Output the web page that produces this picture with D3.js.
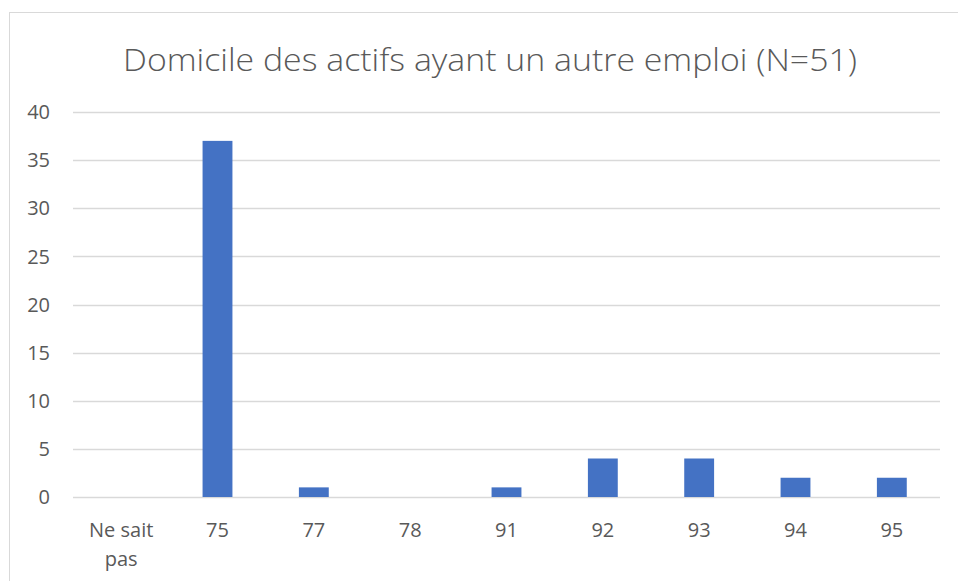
<!DOCTYPE html>
<style>
body { margin: 0; background: #fff; }
text { font-family: "Open Sans", "Noto Sans", sans-serif; fill: #595959; }
</style>
<svg width="958" height="581"></svg>
<script src="https://d3js.org/d3.v7.min.js"></script>
<script>

var categories = ["Ne sait pas", "75", "77", "78", "91", "92", "93", "94", "95"],
    values = [0, 37, 1, 0, 1, 4, 4, 2, 2],
    yTicks = [0, 5, 10, 15, 20, 25, 30, 35, 40];

var title = "Domicile des actifs ayant un autre emploi (N=51)";

var svg = d3.select("svg"),
    margin = {top: 112, right: 18, bottom: 84, left: 73},
    width = 958 - margin.left - margin.right,
    height = 581 - margin.top - margin.bottom;

// chart frame (right and bottom edges run off the page)
svg.append("rect")
    .attr("x", 9.5).attr("y", 12.5)
    .attr("width", 1000).attr("height", 1000)
    .attr("fill", "none")
    .attr("stroke", "#d9d9d9");

svg.append("text")
    .attr("x", 490).attr("y", 71)
    .attr("text-anchor", "middle")
    .attr("textLength", 734)
    .attr("lengthAdjust", "spacingAndGlyphs")
    .style("font-size", "31px")
    .style("font-weight", 300)
    .text(title);

var g = svg.append("g")
    .attr("transform", "translate(" + margin.left + "," + margin.top + ")");

var x = d3.scaleBand()
    .domain(categories)
    .range([0, width])
    .paddingInner(0.69)
    .paddingOuter(0.345);

var y = d3.scaleLinear()
    .domain([0, 40])
    .range([385, 0]);

g.selectAll(".grid")
  .data(yTicks)
  .enter().append("line")
    .attr("class", "grid")
    .attr("x1", 0).attr("x2", width)
    .attr("y1", function(d) { return Math.round(y(d)) + 0.5; })
    .attr("y2", function(d) { return Math.round(y(d)) + 0.5; })
    .attr("stroke", "#d9d9d9")
    .attr("stroke-width", 1.3);

g.selectAll(".ytick")
  .data(yTicks)
  .enter().append("text")
    .attr("class", "ytick")
    .attr("x", -23)
    .attr("y", function(d) { return y(d); })
    .attr("dy", "0.36em")
    .attr("text-anchor", "end")
    .style("font-size", "20px")
    .text(function(d) { return d; });

g.selectAll(".bar")
  .data(values)
  .enter().append("rect")
    .attr("class", "bar")
    .attr("x", function(d, i) { return x(categories[i]); })
    .attr("width", x.bandwidth())
    .attr("y", function(d) { return y(d); })
    .attr("height", function(d) { return y(0) - y(d); })
    .attr("fill", "#4472c4");

var xl = g.selectAll(".xtick")
  .data(categories)
  .enter().append("text")
    .attr("class", "xtick")
    .attr("x", function(d) { return x(d) + x.bandwidth() / 2; })
    .attr("y", 425)
    .attr("text-anchor", "middle")
    .style("font-size", "20px");

xl.each(function(d) {
  var t = d3.select(this),
      lines = d === "Ne sait pas" ? ["Ne sait", "pas"] : [d];
  lines.forEach(function(s, k) {
    t.append("tspan")
        .attr("x", x(d) + x.bandwidth() / 2)
        .attr("dy", k ? 29 : 0)
        .text(s);
  });
});

</script>
